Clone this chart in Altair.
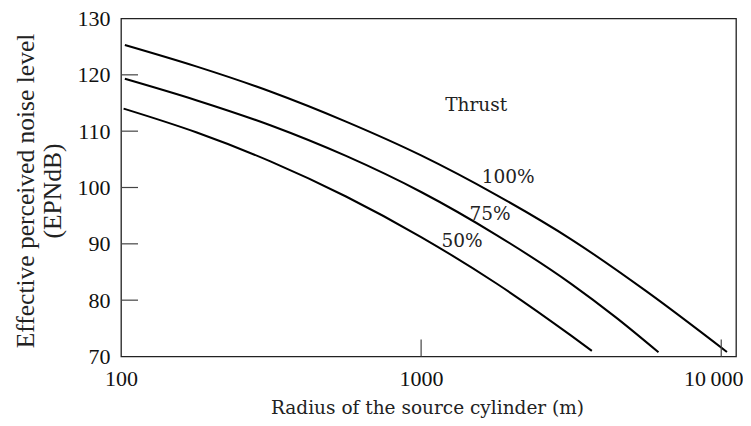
import altair as alt
import pandas as pd

# ---- data ----
r_100 = [103, 178, 316, 562, 1000, 1778, 3162, 5623, 10450]
l_100 = [125.3, 121.5, 117.0, 111.7, 105.7, 98.7, 90.8, 81.6, 70.8]
r_75 = [103, 178, 316, 562, 1000, 1778, 3162, 4467, 6180]
l_75 = [119.3, 115.5, 111.0, 105.6, 99.2, 91.6, 82.9, 76.9, 70.75]
r_50 = [102, 178, 316, 562, 1000, 1778, 3162, 3706]
l_50 = [114.0, 109.8, 104.6, 98.4, 91.2, 83.0, 73.7, 71.0]

label_text = ["Thrust", "100%", "75%", "50%"]
label_r = [1525, 1950, 1698, 1370]
label_l = [113.6, 100.8, 94.25, 89.5]

x_ticks = [100, 1000, 10000]
y_ticks = [70, 80, 90, 100, 110, 120, 130]
x_inner_ticks = [1000, 10000]
y_inner_ticks = [80, 90, 100, 110, 120]

W, H = 615, 338

rows = []
for name, rs, ls in [("100%", r_100, l_100), ("75%", r_75, l_75), ("50%", r_50, l_50)]:
    for r, l in zip(rs, ls):
        rows.append({"series": name, "r": r, "l": l})
curves = pd.DataFrame(rows)

xscale = alt.Scale(type="log", domain=[100, 11200], nice=False)
yscale = alt.Scale(domain=[70, 130], nice=False, zero=False)

xaxis = alt.Axis(values=x_ticks, title="Radius of the source cylinder (m)",
                 labelExpr="datum.value == 10000 ? '10\u2009000' : format(datum.value, 'd')",
                 labelOffset={"condition": {"test": "datum.value == 10000", "value": -8}, "value": 0},
                 ticks=False, tickSize=0, domain=False, grid=False,
                 labelFont="Liberation Serif", labelFontSize=22, labelColor="#111",
                 labelPadding=12, labelFlush=False, labelOverlap=False,
                 titleFont="DejaVu Serif", titleFontSize=18.5, titleFontWeight="normal",
                 titleColor="#222", titleX=306, titleY=57, titleBaseline="alphabetic")
yaxis = alt.Axis(values=y_ticks, title=["Effective perceived noise level", "(EPNdB)"],
                 ticks=False, tickSize=0, domain=False, grid=False,
                 labelFont="Liberation Serif", labelFontSize=22, labelColor="#111",
                 labelPadding=11, labelFlush=False, labelOverlap=False,
                 titleFont="Liberation Serif", titleFontSize=25.5, titleFontWeight="normal",
                 titleColor="#222", titleX=-88, titleY=172, titleAngle=-90,
                 titleBaseline="alphabetic", titleAlign="center", titleLineHeight=27)

X = lambda: alt.X("r:Q", scale=xscale, axis=xaxis)
Y = lambda: alt.Y("l:Q", scale=yscale, axis=yaxis)

lines = alt.Chart(curves).mark_line(
    color="black", strokeWidth=2, interpolate="monotone"
).encode(x=X(), y=Y(), detail="series:N")

yt = alt.Chart(pd.DataFrame({"l": y_inner_ticks})).mark_rule(color="#444", strokeWidth=1.2).encode(
    y=Y(), x=alt.value(0), x2=alt.value(17),
)
xt = alt.Chart(pd.DataFrame({"r": x_inner_ticks})).mark_rule(color="#444", strokeWidth=1.2).encode(
    x=X(), y=alt.value(H - 17), y2=alt.value(H),
)

labels = alt.Chart(pd.DataFrame({"t": label_text, "r": label_r, "l": label_l})).mark_text(
    font="DejaVu Serif", fontSize=18.5, color="#222", align="center", baseline="alphabetic"
).encode(x=X(), y=Y(), text="t:N")

chart = alt.layer(lines, yt, xt, labels).properties(
    width=W, height=H,
    autosize=alt.AutoSizeParams(type="none"),
    padding={"left": 113, "top": 10.5, "right": 7, "bottom": 61},
    background="white",
).configure_view(stroke="#222", strokeWidth=1.3)

chart.save("out.html", embed_options={"renderer": "svg", "actions": False})
